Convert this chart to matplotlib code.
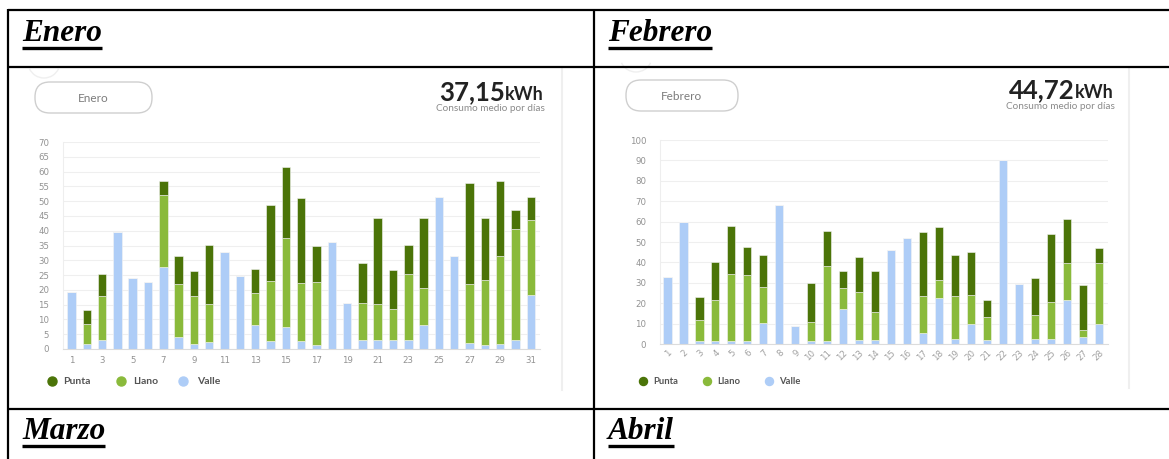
import matplotlib
matplotlib.use("Agg")
import matplotlib.pyplot as plt
from matplotlib.patches import FancyBboxPatch, Arc
import numpy as np

W, H = 1169, 459

# ---------------- data ----------------
ene_days = list(range(1, 32))
ene_valle = [19.2, 1.6, 3.2, 39.5, 23.9, 22.6, 27.7, 4.2, 1.8, 2.4, 32.7, 24.6, 8.1, 2.7, 7.4,
             2.6, 1.4, 36.3, 15.5, 3.2, 2.9, 2.9, 2.9, 8.2, 51.5, 31.4, 2.0, 1.4, 1.8, 2.9, 18.3]
ene_llano = [0, 6.8, 14.7, 0, 0, 0, 24.3, 17.7, 16.2, 12.9, 0, 0, 10.9, 20.4, 30.3,
             19.8, 21.3, 0, 0, 12.4, 12.2, 10.7, 22.4, 12.3, 0, 0, 19.9, 22.1, 29.6, 37.8, 25.3]
ene_punta = [0, 4.7, 7.6, 0, 0, 0, 4.9, 9.5, 8.3, 19.9, 0, 0, 8.1, 25.7, 24.0,
             28.7, 12.1, 0, 0, 13.5, 29.1, 13.1, 9.7, 23.7, 0, 0, 34.3, 20.7, 25.3, 6.2, 7.9]

feb_days = list(range(1, 29))
feb_valle = [32.7, 59.8, 1.5, 1.5, 1.5, 1.5, 10.1, 68.3, 8.8, 1.5, 1.5, 17.0, 2.1, 2.1,
             45.9, 51.8, 5.6, 22.4, 2.6, 10.0, 2.1, 90.0, 29.6, 2.5, 2.5, 21.6, 3.4, 10.0]
feb_llano = [0, 0, 10.4, 19.9, 33.0, 32.3, 17.7, 0, 0, 9.3, 36.9, 10.5, 23.2, 13.7,
             0, 0, 17.9, 8.8, 20.8, 14.2, 11.3, 0, 0, 11.6, 18.1, 18.3, 3.5, 29.5]
feb_punta = [0, 0, 11.0, 18.6, 23.3, 13.6, 15.7, 0, 0, 19.3, 17.2, 8.4, 17.5, 20.1,
             0, 0, 31.2, 26.2, 20.2, 20.7, 8.0, 0, 0, 18.3, 33.5, 21.2, 22.2, 7.7]

ene_avg = "37,15"
feb_avg = "44,72"
series_names = ["Punta", "Llano", "Valle"]

C_PUNTA = "#4b7408"
C_LLANO = "#8aba3b"
C_VALLE = "#aecdf7"
TICK_C = "#929292"

fig = plt.figure(figsize=(W / 100, H / 100), dpi=100)
fig.patch.set_facecolor("white")


def rect(x0, y0, x1, y1):
    return [x0 / W, 1 - y1 / H, (x1 - x0) / W, (y1 - y0) / H]


def style_axes(ax):
    for s in ["top", "right"]:
        ax.spines[s].set_visible(False)
    ax.spines["left"].set_color("#eeeeee")
    ax.spines["bottom"].set_color("#dcdcdc")
    ax.spines["left"].set_linewidth(0.8)
    ax.spines["bottom"].set_linewidth(0.8)
    ax.grid(axis="y", color="#efefef", linewidth=0.8)
    ax.set_axisbelow(True)
    ax.tick_params(length=0, colors=TICK_C, labelsize=6.2)
    for lab in ax.get_yticklabels() + ax.get_xticklabels():
        lab.set_family("DejaVu Sans")


def stacked(ax, days, valle, llano, punta, width):
    valle = np.array(valle)
    llano = np.array(llano)
    punta = np.array(punta)
    kw = dict(width=width, edgecolor="#f4f4f4", linewidth=0.4)
    ax.bar(days, valle, color=C_VALLE, **kw)
    ax.bar(days, llano, bottom=valle, color=C_LLANO, **kw)
    ax.bar(days, punta, bottom=valle + llano, color=C_PUNTA, **kw)


# ---------------- Enero chart ----------------
ax1 = fig.add_axes(rect(63, 142, 540, 349))
stacked(ax1, ene_days, ene_valle, ene_llano, ene_punta, 0.55)
ax1.set_xlim(0.45, 31.6)
ax1.set_ylim(0, 70)
ax1.set_yticks(np.arange(0, 71, 5))
ax1.set_xticks(ene_days[::2])
style_axes(ax1)
ax1.tick_params(axis="y", pad=10)
ax1.tick_params(axis="x", pad=5)

# ---------------- Febrero chart ----------------
ax2 = fig.add_axes(rect(660, 140, 1108, 344))
stacked(ax2, feb_days, feb_valle, feb_llano, feb_punta, 0.52)
ax2.set_xlim(0.54, 28.55)
ax2.set_ylim(0, 100)
ax2.set_yticks(np.arange(0, 101, 10))
ax2.set_xticks(feb_days)
style_axes(ax2)
ax2.tick_params(axis="y", pad=10)
ax2.tick_params(axis="x", pad=3)
for lab in ax2.get_xticklabels():
    lab.set_rotation(45)
    lab.set_ha("right")
    lab.set_va("top")
    lab.set_rotation_mode("anchor")
    lab.set_color("#a0a0a0")

# ---------------- overlay (pixel coords) ----------------
ov = fig.add_axes([0, 0, 1, 1], zorder=5)
ov.set_xlim(0, W)
ov.set_ylim(H, 0)
ov.axis("off")
ov.patch.set_alpha(0)

# panel right separators
ov.plot([562, 562], [68, 390], color="#efefef", lw=1.5)
ov.plot([1129, 1129], [68, 388], color="#efefef", lw=1.5)

# faint cut-off circles at panel tops (bottom part only visible)
for (cx, cy) in ((44, 62), (636, 56)):
    ov.add_patch(Arc((cx, cy), 32, 32, theta1=25, theta2=155, color="#efefef", lw=1.0))

# pills
for (x0, x1, y0, y1, txt) in [(35, 152, 82, 113, "Enero"), (626, 738, 80, 111, "Febrero")]:
    ov.add_patch(FancyBboxPatch((x0, y0), x1 - x0, y1 - y0,
                                boxstyle="round,pad=0,rounding_size=15",
                                fc="white", ec="#cfcfcf", lw=1.0))
    ov.text((x0 + x1) / 2, (y0 + y1) / 2 + 0.5, txt, ha="center", va="center",
            fontsize=8.5, color="#7c7c7c", family="Lato")

# average values
renderer = fig.canvas.get_renderer()
for (xr, yb, val) in [(544, 100, ene_avg), (1114, 98, feb_avg)]:
    t_k = ov.text(xr, yb, "kWh", ha="right", va="baseline", fontsize=13,
                  fontweight="bold", color="#222222", family="Lato")
    bb = t_k.get_window_extent(renderer=renderer)
    ov.text(xr - bb.width - 0.5, yb, val, ha="right", va="baseline", fontsize=18.5,
            fontweight="bold", color="#222222", family="Lato")
    ov.text(xr + 1, yb + 8.5, "Consumo medio por días", ha="right", va="center",
            fontsize=7.2, color="#8a8a8a", family="Lato")

# legends
legend_specs = [
    (381, [(51.5, 63), (121, 133), (183, 197)], 7.5),
    (381, [(643, 653), (707, 717), (769, 779)], 6.8),
]
for (ly, pos, fs) in legend_specs:
    for (name, color, (cx, tx)) in zip(series_names, [C_PUNTA, C_LLANO, C_VALLE], pos):
        ov.plot([cx], [ly], marker="o", ms=6.5 if fs > 7 else 5.8, color=color, mec=color)
        ov.text(tx, ly, name, ha="left", va="center", fontsize=fs, fontweight="bold",
                color="#555555", family="Lato")

# table lines
lw_tab = 1.6
ov.plot([8, W], [10, 10], color="black", lw=lw_tab, solid_capstyle="butt")
ov.plot([8, W], [67, 67], color="black", lw=lw_tab, solid_capstyle="butt")
ov.plot([8, W], [408.5, 408.5], color="black", lw=lw_tab, solid_capstyle="butt")
ov.plot([8, 8], [9.2, H], color="black", lw=lw_tab, solid_capstyle="butt")
ov.plot([594, 594], [10, H], color="black", lw=lw_tab, solid_capstyle="butt")

# section titles (bold italic underlined)
titles = [(22, 41, "Enero"), (608, 41, "Febrero"), (22, 439, "Marzo"), (608, 439, "Abril")]
for (tx, ty, txt) in titles:
    t = ov.text(tx, ty, txt, ha="left", va="baseline", fontsize=22.5, fontweight="bold",
                fontstyle="italic", family="Liberation Serif", color="black")
    bb = t.get_window_extent(renderer=renderer)
    ov.plot([tx, tx + bb.width], [ty + 6.5, ty + 6.5], color="black", lw=2.4,
            solid_capstyle="butt")

fig.savefig("out.png", dpi=100, facecolor="white")
